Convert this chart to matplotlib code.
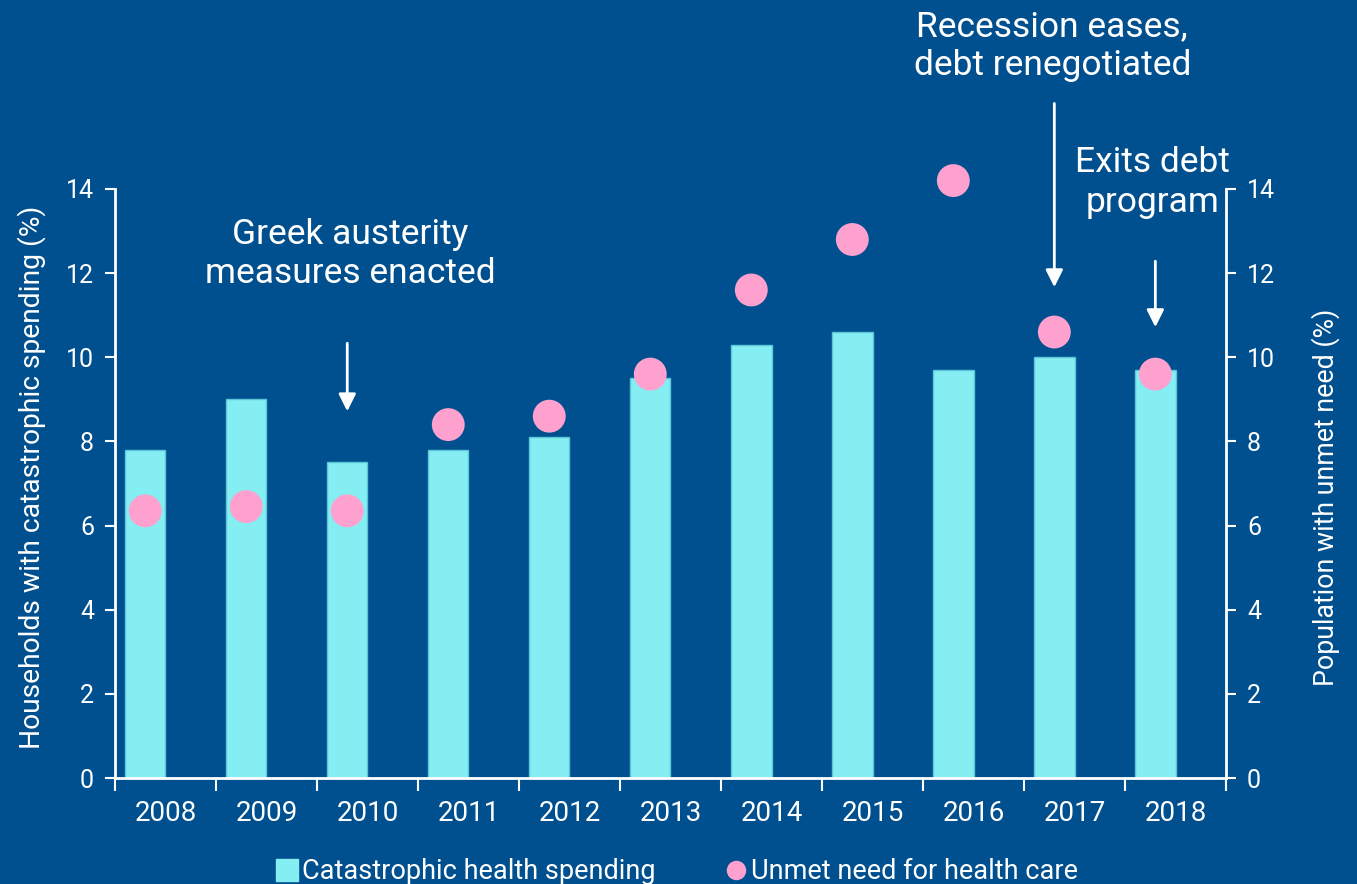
import numpy as np
import matplotlib
matplotlib.use("Agg")
import matplotlib.pyplot as plt
from matplotlib.lines import Line2D

# Greece: catastrophic health spending vs unmet need, 2008-2018
years = ["2008", "2009", "2010", "2011", "2012", "2013",
         "2014", "2015", "2016", "2017", "2018"]
catastrophic = [7.8, 9.0, 7.5, 7.8, 8.1, 9.5, 10.3, 10.6, 9.7, 10.0, 9.7]
unmet_need = [6.35, 6.45, 6.35, 8.4, 8.6, 9.6, 11.6, 12.8, 14.2, 10.6, 9.6]

bg = "#00508F"
bar_color = "#84EEF2"
dot_color = "#FFA1CF"
white = "white"

plt.rcParams["font.family"] = ["Roboto", "DejaVu Sans"]

fig = plt.figure(figsize=(13.57, 8.84), dpi=100, facecolor=bg)
ax = fig.add_axes([0.0847, 0.1199, 0.8188, 0.6663], facecolor=bg)
ax2 = ax.twinx()

x = np.arange(len(years))
xb = x - 0.2

ax.bar(xb, catastrophic, width=0.4, color=bar_color, edgecolor="#5CC6D8",
       linewidth=1, zorder=2)
ax2.scatter(xb, unmet_need, s=560, color=dot_color, edgecolors="none",
            zorder=3, clip_on=False)

for a in (ax, ax2):
    a.set_ylim(0, 14)
    a.set_xlim(-0.5, len(years) - 0.5)
    a.set_yticks(range(0, 15, 2))
    a.spines["top"].set_visible(False)
    for s in ("left", "right", "bottom"):
        a.spines[s].set_color(white)
        a.spines[s].set_linewidth(2)
    a.tick_params(colors=white, labelsize=18, width=1.5, length=7)

ax.spines["right"].set_visible(False)
ax2.spines["left"].set_visible(False)
ax2.spines["bottom"].set_visible(False)

# category boundaries as major ticks, year labels at category centres
ax.set_xticks(np.arange(-0.5, len(years), 1.0))
ax.set_xticklabels([])
ax.set_xticks(x, minor=True)
ax.set_xticklabels(years, minor=True)
ax.tick_params(axis="x", which="minor", length=0, pad=16, labelsize=20,
               colors=white)
ax.tick_params(axis="x", which="major", length=9)
ax.tick_params(axis="y", pad=8)
ax2.tick_params(axis="y", pad=8)

ax.set_ylabel("Households with catastrophic spending (%)", color=white,
              fontsize=20.3)
ax.yaxis.set_label_coords(-0.062, 0.51)
ax2.set_ylabel("Population with unmet need (%)", color=white,
               fontsize=19.3, rotation=90)
ax2.yaxis.set_label_coords(1.077, 0.477)

# event annotations
events = [
    ("Greek austerity\nmeasures enacted", 1.83, 12.45, 1.8, 10.4, 8.65),
    ("Recession eases,\ndebt renegotiated", 8.78, 17.4, 8.8, 16.1, 11.6),
    ("Exits debt\nprogram", 9.77, 14.15, 9.8, 12.35, 10.65),
]
for label, tx, ty, ax_x, y0, y1 in events:
    ax2.text(tx, ty, label, ha="center", va="center", color=white,
             fontsize=25.5, linespacing=1.25, clip_on=False)
    ax2.annotate("", xy=(ax_x, y1), xytext=(ax_x, y0),
                 arrowprops=dict(arrowstyle="-|>", color=white, lw=2,
                                 mutation_scale=26),
                 annotation_clip=False)

handles = [
    Line2D([], [], marker="s", linestyle="none", markersize=16,
           color=bar_color),
    Line2D([], [], marker="o", linestyle="none", markersize=13,
           color=dot_color),
]
fig.legend(handles, ["Catastrophic health spending", "Unmet need for health care"],
           loc="center", bbox_to_anchor=(0.499, 0.014), ncol=2, frameon=False,
           fontsize=19.5, labelcolor=white, handletextpad=0.15,
           columnspacing=2.6, handlelength=0.8)

fig.savefig("out.png", dpi=100, facecolor=bg)
